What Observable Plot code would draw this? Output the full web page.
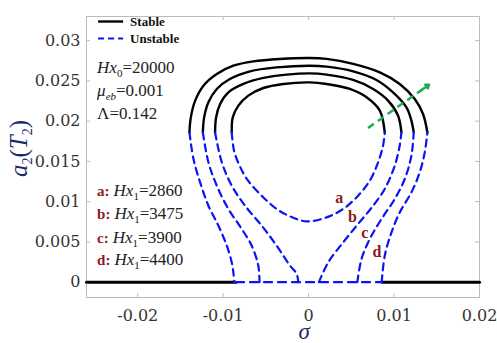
<!DOCTYPE html>
<html><head><meta charset="utf-8">
<script src="https://cdn.jsdelivr.net/npm/d3@7"></script>
<script src="https://cdn.jsdelivr.net/npm/@observablehq/plot@0.6"></script>
<style>body{margin:0;background:#fff}#chart svg{display:block}</style>
</head><body><div id="chart"></div>
<script>
// ---- tick values and labels ----
const xTicks = [-0.02, -0.01, 0, 0.01, 0.02];
const xTickLabels = ["-0.02", "-0.01", "0", "0.01", "0.02"];
const yTicks = [0, 0.005, 0.01, 0.015, 0.02, 0.025, 0.03];
const yTickLabels = ["0", "0.005", "0.01", "0.015", "0.02", "0.025", "0.03"];

// ---- stable branches (sigma, a2) ----
const stableA = [[-0.0090,0.0186],[-0.00888,0.02047],[-0.00822,0.02193],[-0.00706,0.02317],[-0.0053,0.02412],[-0.00297,0.02462],[0.00015,0.02482],[0.0021,0.02462],[0.00482,0.024],[0.00678,0.02296],[0.00833,0.0213],[0.00891,0.0186]];
const stableB = [[-0.01095,0.0186],[-0.01083,0.02047],[-0.01036,0.02214],[-0.00939,0.02358],[-0.00764,0.02462],[-0.0053,0.02537],[-0.00257,0.02578],[0.00015,0.02594],[0.0021,0.02578],[0.00521,0.02512],[0.00755,0.024],[0.0093,0.02255],[0.01047,0.02068],[0.01086,0.0186]];
const stableC = [[-0.01238,0.0186],[-0.01223,0.02047],[-0.01173,0.02234],[-0.01075,0.024],[-0.00922,0.02524],[-0.00686,0.02619],[-0.00374,0.02668],[0.00015,0.02689],[0.0021,0.02677],[0.00521,0.02619],[0.00794,0.02512],[0.00988,0.02358],[0.01145,0.02171],[0.01203,0.02006],[0.0123,0.0186]];
const stableD = [[-0.01395,0.0186],[-0.01379,0.02047],[-0.01328,0.02255],[-0.01231,0.02441],[-0.01075,0.02586],[-0.00881,0.02689],[-0.00647,0.02743],[-0.00335,0.02773],[0.00015,0.02785],[0.0021,0.02773],[0.00521,0.02711],[0.00833,0.02606],[0.01066,0.02462],[0.01242,0.02276],[0.01339,0.02089],[0.0139,0.0186]];

// ---- unstable branches ----
const unstableA = [[-0.009,0.0186],[-0.00873,0.01634],[-0.00803,0.01435],[-0.00709,0.01261],[-0.0053,0.01053],[-0.00374,0.00909],[-0.00218,0.00817],[-0.00023,0.00755],[0.0021,0.00805],[0.00404,0.00909],[0.00579,0.01075],[0.00716,0.01261],[0.00813,0.01488],[0.00871,0.01696],[0.00891,0.0186]];
const unstableBLeft = [[-0.01095,0.0186],[-0.01016,0.01488],[-0.009,0.01199],[-0.00744,0.0095],[-0.00549,0.00702],[-0.00374,0.00453],[-0.00218,0.00205],[-0.0014,0.00102],[-0.00121,0]];
const unstableBRight = [[0.0012,0],[0.00229,0.00246],[0.00404,0.00494],[0.00579,0.00723],[0.00755,0.0095],[0.00891,0.01158],[0.01008,0.01447],[0.01066,0.01696],[0.01086,0.0186]];
const unstableCLeft = [[-0.01238,0.0186],[-0.01173,0.01488],[-0.01075,0.01199],[-0.00939,0.00909],[-0.00783,0.00661],[-0.00666,0.00453],[-0.00589,0.00205],[-0.00575,0]];
const unstableCRight = [[0.0057,0],[0.00619,0.00288],[0.00716,0.00537],[0.00853,0.00785],[0.01008,0.01034],[0.01125,0.01282],[0.01203,0.01571],[0.0123,0.0186]];
const unstableDLeft = [[-0.01395,0.0186],[-0.01348,0.0153],[-0.0127,0.0124],[-0.01173,0.0095],[-0.01056,0.00702],[-0.00958,0.00453],[-0.009,0.00246],[-0.00881,0.00122],[-0.00873,0]];
const unstableDRight = [[0.00855,0],[0.00891,0.00329],[0.0097,0.00619],[0.01066,0.00867],[0.01203,0.01116],[0.013,0.01364],[0.01359,0.01612],[0.0139,0.0186]];

// ---- trivial solution (a2 = 0) ----
const trivialStableLeft = [[-0.026,0],[-0.0085,0]];
const trivialStableRight = [[0.0086,0],[0.02,0]];
const trivialUnstable = [[-0.0085,0],[0.0086,0]];

// ---- annotations ----
const arrowPath = [[0.00696,0.01916],[0.01409,0.02453]];
const curveLetters = ["a","b","c","d"];
const curveLetterPos = [[0.00357,0.01053],[0.00514,0.00817],[0.00658,0.00611],[0.00801,0.00379]];
const hx1Values = ["2860","3475","3900","4400"];
const hx1Baselines = [0.01062,0.00773,0.00482,0.00205];
const paramBaselines = [0.0259,0.02304,0.02025];
const textLeft = -0.0247;

const toRows = (id, pts) => pts.map(([s, v]) => ({id, s, v}));
const stableRows = [...toRows("a", stableA), ...toRows("b", stableB), ...toRows("c", stableC), ...toRows("d", stableD)];
const unstableRows = [...toRows("a", unstableA), ...toRows("bl", unstableBLeft), ...toRows("br", unstableBRight),
  ...toRows("cl", unstableCLeft), ...toRows("cr", unstableCRight), ...toRows("dl", unstableDLeft), ...toRows("dr", unstableDRight)];
const trivS = [...toRows("l", trivialStableLeft), ...toRows("r", trivialStableRight)];
const trivU = toRows("u", trivialUnstable);
const letterRows = curveLetters.map((t, i) => ({t, s: curveLetterPos[i][0], v: curveLetterPos[i][1]}));

const W = 497, H = 343, ML = 86, MR = 18, MT = 16, MB = 46;
const FW = W - ML - MR, FH = H - MT - MB;
const frameColor = "#bcbcbc";
const green = "#20ad4e";
const blue = "#0a14f5";
const dark = "#8c1a22";
const navy = "#1a2a6a";
const head = arrowPath[0].map((v, k) => v + 0.85 * (arrowPath[1][k] - v));

const plot = Plot.plot({
  width: W, height: H, marginLeft: ML, marginRight: MR, marginTop: MT, marginBottom: MB,
  x: {domain: [-0.026, 0.02]},
  y: {domain: [-0.0019, 0.033]},
  style: {fontFamily: "'DejaVu Serif', serif", fontSize: "16px", background: "#fff"},
  marks: [
    Plot.frame({stroke: frameColor}),
    Plot.ruleX(xTicks, {stroke: frameColor, insetTop: FH - 4}),
    Plot.ruleX(xTicks, {stroke: frameColor, insetBottom: FH - 4}),
    Plot.ruleY(yTicks, {stroke: frameColor, insetRight: FW - 4}),
    Plot.ruleY(yTicks, {stroke: frameColor, insetLeft: FW - 4}),
    Plot.axisX(xTicks, {tickSize: 0, tickPadding: 12, fill: "#333", fontSize: 16, label: null,
      tickFormat: d => xTickLabels[xTicks.indexOf(d)]}),
    Plot.axisY(yTicks, {tickSize: 0, tickPadding: 6, fill: "#333", fontSize: 16, label: null,
      tickFormat: d => yTickLabels[yTicks.indexOf(d)]}),
    Plot.line(trivS, {x: "s", y: "v", z: "id", stroke: "#000", strokeWidth: 3}),
    Plot.line(trivU, {x: "s", y: "v", z: "id", stroke: blue, strokeWidth: 2.2, strokeDasharray: "8,6"}),
    Plot.line(stableRows, {x: "s", y: "v", z: "id", stroke: "#000", strokeWidth: 2.4, curve: "catmull-rom"}),
    Plot.line(unstableRows, {x: "s", y: "v", z: "id", stroke: blue, strokeWidth: 2.2, strokeDasharray: "7,5", curve: "catmull-rom"}),
    Plot.link([arrowPath], {x1: d => d[0][0], y1: d => d[0][1], x2: d => d[1][0], y2: d => d[1][1],
      stroke: green, strokeWidth: 2.5, strokeDasharray: "7,5"}),
    Plot.arrow([arrowPath], {x1: () => head[0], y1: () => head[1], x2: d => d[1][0], y2: d => d[1][1],
      stroke: green, strokeWidth: 2.5, headLength: 13, headAngle: 70}),
    Plot.text(letterRows, {x: "s", y: "v", text: "t", fill: dark, fontWeight: "bold", fontSize: 16,
      fontFamily: "'Liberation Serif', serif"})
  ]
});

const svg = d3.select(plot);
const sx = plot.scale("x"), sy = plot.scale("y");
const fx = d3.scaleLinear(sx.domain, sx.range);
const fy = d3.scaleLinear(sy.domain, sy.range);

function rich(parent, x, y, parts, attrs = {}) {
  const t = parent.append("text").attr("x", x).attr("y", y)
    .attr("font-family", "'Liberation Serif', serif").attr("fill", "#222").attr("text-anchor", "start");
  for (const [k, v] of Object.entries(attrs)) t.attr(k, v);
  let shift = 0;
  for (const p of parts) {
    const s = t.append("tspan").text(p.t);
    const target = p.sub ? (p.off ?? 4) : 0;
    if (target !== shift) { s.attr("dy", target - shift); shift = target; }
    if (p.dx) s.attr("dx", p.dx);
    if (p.size) s.attr("font-size", p.size);
    if (p.i) s.attr("font-style", "italic");
    if (p.b) s.attr("font-weight", "bold");
    if (p.fill) s.attr("fill", p.fill);
  }
  return t;
}

const g = svg.append("g");
// legend
const lx = fx(textLeft) + 1;
g.append("line").attr("x1", lx).attr("x2", lx + 25).attr("y1", MT + 5.5).attr("y2", MT + 5.5)
  .attr("stroke", "#000").attr("stroke-width", 2.4);
g.append("line").attr("x1", lx).attr("x2", lx + 25).attr("y1", MT + 22.5).attr("y2", MT + 22.5)
  .attr("stroke", blue).attr("stroke-width", 2.2).attr("stroke-dasharray", "6,4");
rich(g, lx + 32, MT + 9.5, [{t: "Stable", b: true}], {"font-size": 13, fill: "#111"});
rich(g, lx + 32, MT + 26.5, [{t: "Unstable", b: true}], {"font-size": 13, fill: "#111"});

// parameters
const P = 17;
rich(g, fx(textLeft), fy(paramBaselines[0]), [{t: "Hx", i: true}, {t: "0", sub: true, size: 11}, {t: "=20000"}], {"font-size": P});
rich(g, fx(textLeft), fy(paramBaselines[1]), [{t: "μ", i: true}, {t: "eb", i: true, sub: true, size: 11}, {t: "=0.001"}], {"font-size": P});
rich(g, fx(textLeft), fy(paramBaselines[2]), [{t: "Λ=0.142"}], {"font-size": P});

// Hx1 list
curveLetters.forEach((c, i) => {
  rich(g, fx(textLeft), fy(hx1Baselines[i]), [
    {t: c + ":", b: true, fill: dark, size: 15},
    {t: "Hx", i: true, dx: 4},
    {t: "1", sub: true, size: 11},
    {t: "=" + hx1Values[i]}
  ], {"font-size": P});
});

// axis titles
const yl = svg.append("g").attr("transform", `translate(27,${(MT + H - MB) / 2 - 8}) rotate(-90)`);
rich(yl, 0, 0, [{t: "a", i: true}, {t: "2", sub: true, size: 14, off: 5}, {t: "("}, {t: "T", i: true},
  {t: "2", sub: true, size: 14, off: 5}, {t: ")"}], {"font-size": 25, "text-anchor": "middle", fill: navy});
rich(svg, fx(0) - 4, H - 4, [{t: "σ", i: true}], {"font-size": 23, "text-anchor": "middle", fill: navy});

document.getElementById("chart").appendChild(plot);
</script></body></html>
